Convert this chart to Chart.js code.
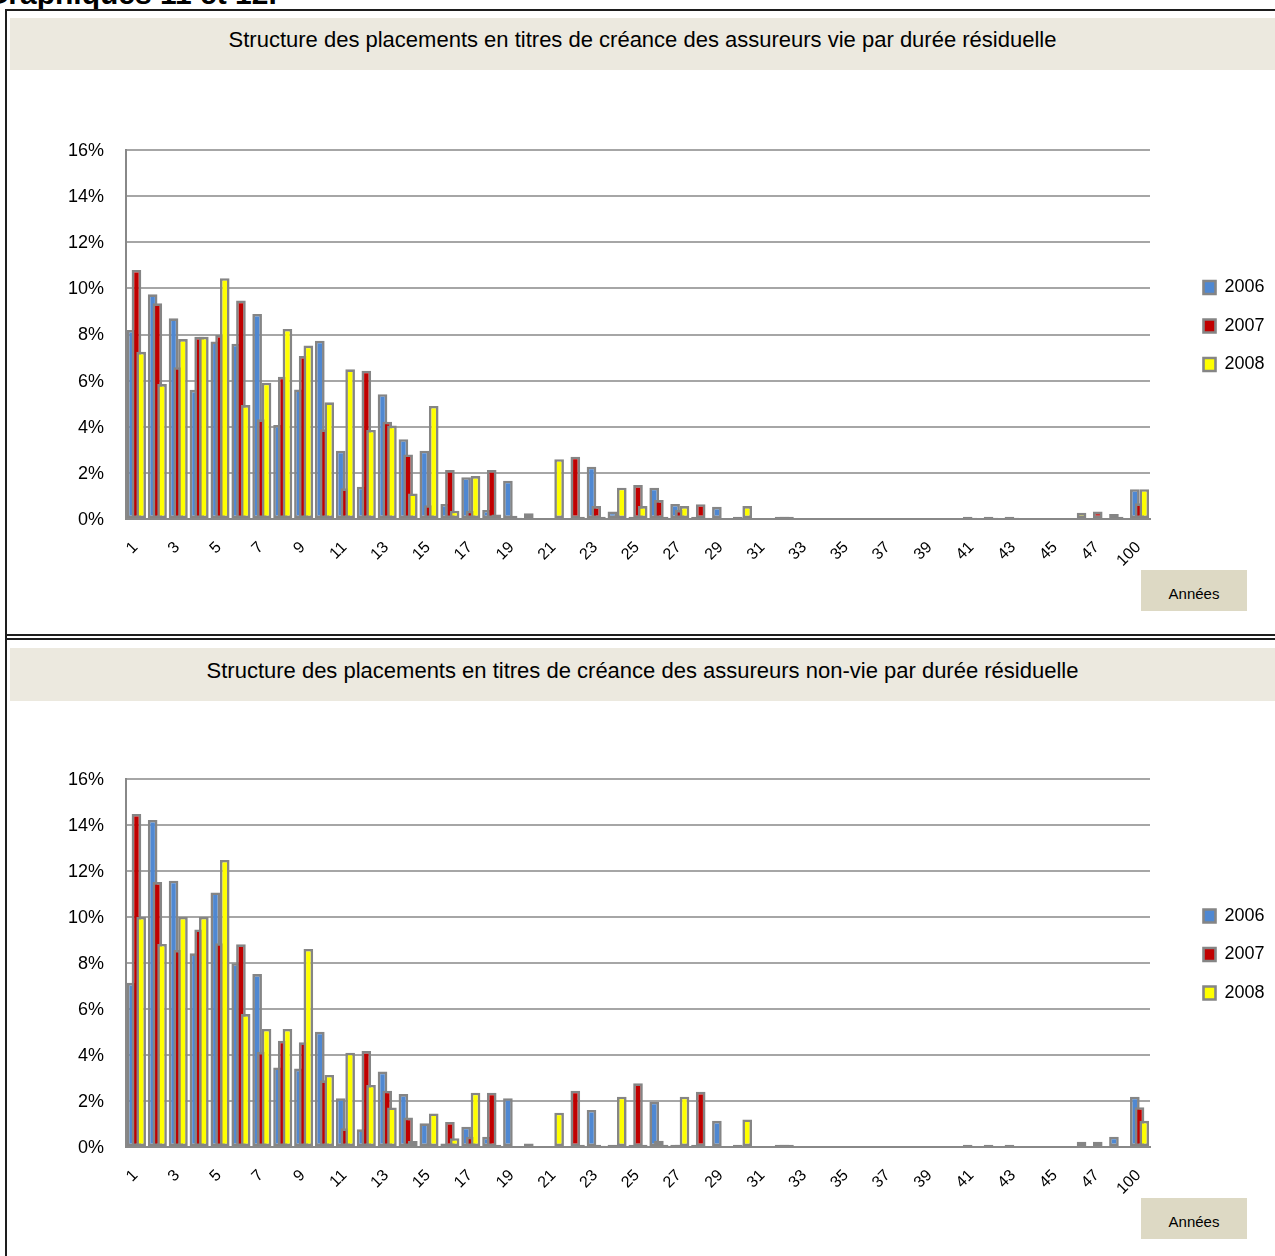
<!DOCTYPE html>
<html lang="fr">
<head>
<meta charset="utf-8">
<title>Graphiques 11 et 12</title>
<script src="https://cdn.jsdelivr.net/npm/chart.js@4/dist/chart.umd.min.js"></script>
<style>
  html, body { margin: 0; padding: 0; background: #fff; }
  body { position: relative; width: 1275px; height: 1256px; overflow: hidden;
         font-family: "Liberation Sans", Arial, sans-serif; color: #000; }
  .abs { position: absolute; }
  .heading { left: -15px; top: -21px; font-size: 30px; line-height: 30px; font-weight: bold; white-space: nowrap; }
  .rule { background: #1e1e1e; }
  .band { left: 10px; width: 1265px; background: #ECE9DF; font-size: 22px; line-height: 22px;
          text-align: center; white-space: nowrap; box-sizing: border-box; }
  .unit { left: 1141px; width: 106px; height: 41px; background: #DDD9C4; font-size: 15px; line-height: 15px;
          text-align: center; box-sizing: border-box; padding-top: 16px; }
  canvas { position: absolute; left: 10px; }
</style>
</head>
<body>
<div class="abs heading" id="heading"></div>
<div class="abs rule" style="left:5px; top:9px; width:1270px; height:2px"></div>
<div class="abs rule" style="left:5px; top:9px; width:2px; height:1247px"></div>
<div class="abs rule" style="left:5px; top:634px; width:1270px; height:2px"></div>
<div class="abs rule" style="left:5px; top:638px; width:1270px; height:2px"></div>

<div class="abs band" id="titleVie" style="top:18px; height:52px; padding-top:11px"></div>
<canvas id="chartVie" width="1261" height="520" style="top:80px"></canvas>
<div class="abs unit" id="unitVie" style="top:570px"></div>

<div class="abs band" id="titleNonVie" style="top:648px; height:53px; padding-top:12px"></div>
<canvas id="chartNonVie" width="1261" height="520" style="top:709px"></canvas>
<div class="abs unit" id="unitNonVie" style="top:1198px"></div>

<script>
// ---- texts ----
const headingText = 'Graphiques 11 et 12.';
const titleVie = 'Structure des placements en titres de créance des assureurs vie par durée résiduelle';
const titleNonVie = 'Structure des placements en titres de créance des assureurs non-vie par durée résiduelle';
const axisName = 'Années';

// ---- categories: residual maturity in years ----
const maturities = ['1','2','3','4','5','6','7','8','9','10',
  '11','12','13','14','15','16','17','18','19','20',
  '21','22','23','24','25','26','27','28','29','30',
  '31','32','33','34','35','36','37','38','39','40',
  '41','42','43','44','45','46','47','48','100'];

const years = ['2006', '2007', '2008'];

// ---- life insurers, share of debt securities (%) ----
const vie2006 = [8.2, 9.74, 8.7, 5.6, 7.7, 7.6, 8.89, 4.08, 5.62, 7.73,
  2.96, 1.4, 5.41, 3.46, 2.96, 0.65, 1.81, 0.39, 1.66, 0.25,
  0, 0, 2.27, 0.32, 0.1, 1.36, 0.65, 0.1, 0.53, 0.1,
  0, 0.1, 0, 0, 0, 0, 0, 0, 0, 0,
  0.1, 0.1, 0.1, 0, 0, 0, 0, 0.22, 1.29];
const vie2007 = [10.8, 9.35, 6.58, 7.9, 7.98, 9.47, 4.32, 6.17, 7.07, 3.89,
  1.33, 6.43, 4.22, 2.8, 0.6, 2.12, 0.36, 2.12, 0.14, 0,
  0, 2.7, 0.56, 0.05, 1.47, 0.82, 0.4, 0.64, 0, 0.05,
  0, 0.1, 0, 0, 0, 0, 0, 0, 0, 0,
  0.05, 0.05, 0.05, 0, 0, 0, 0.32, 0.1, 0.68];
const vie2008 = [7.25, 5.85, 7.8, 7.9, 10.44, 4.94, 5.91, 8.24, 7.52, 5.06,
  6.49, 3.86, 4.05, 1.11, 4.9, 0.36, 1.86, 0.2, 0.05, 0,
  2.59, 0.1, 0.1, 1.36, 0.56, 0.1, 0.56, 0.05, 0, 0.56,
  0, 0.1, 0, 0, 0, 0, 0, 0, 0, 0,
  0, 0, 0, 0, 0, 0.27, 0, 0, 1.29];

// ---- non-life insurers, share of debt securities (%) ----
const nonVie2006 = [7.14, 14.22, 11.58, 8.42, 11.07, 7.99, 7.52, 3.46, 3.41, 5.01,
  2.12, 0.77, 3.28, 2.3, 1.03, 0.15, 0.88, 0.45, 2.12, 0.15,
  0, 0, 1.61, 0.1, 0.1, 1.97, 0.1, 0.1, 1.14, 0.1,
  0, 0.1, 0, 0, 0, 0, 0, 0, 0, 0,
  0.1, 0.1, 0.1, 0, 0, 0, 0, 0.45, 2.19];
const nonVie2007 = [14.48, 11.52, 8.57, 9.46, 8.86, 8.81, 4.14, 4.62, 4.55, 2.9,
  0.81, 4.17, 2.45, 1.28, 0.1, 1.09, 0.45, 2.36, 0, 0,
  0, 2.45, 0.1, 0.05, 2.77, 0.27, 0.1, 2.4, 0, 0.05,
  0, 0.1, 0, 0, 0, 0, 0, 0, 0, 0,
  0, 0, 0, 0, 0, 0, 0.23, 0, 1.73];
const nonVie2008 = [10.0, 8.83, 10.0, 10.0, 12.48, 5.78, 5.13, 5.13, 8.61, 3.13,
  4.1, 2.7, 1.72, 0.26, 1.46, 0.38, 2.36, 0.1, 0, 0,
  1.49, 0.1, 0.05, 2.19, 0.1, 0.1, 2.19, 0, 0, 1.2,
  0, 0.1, 0, 0, 0, 0, 0, 0, 0, 0,
  0, 0, 0, 0, 0, 0.23, 0, 0, 1.14];

// ---- value axis ----
const yMin = 0, yMax = 16, yStep = 2;

document.getElementById('heading').textContent = headingText;
document.getElementById('titleVie').textContent = titleVie;
document.getElementById('titleNonVie').textContent = titleNonVie;
document.getElementById('unitVie').textContent = axisName;
document.getElementById('unitNonVie').textContent = axisName;

Chart.defaults.font.family = '"Liberation Sans", Arial, sans-serif';
Chart.defaults.color = '#000';

const fills = ['#4f88d2', '#c00000', '#ffff00'];
const outline = '#858585';

// Paint the years in sequence so each later year overlaps the earlier ones.
const paintInYearOrder = {
  id: 'paintInYearOrder',
  beforeDatasetsDraw(chart) {
    for (let i = 0; i < chart.data.datasets.length; i++) {
      if (chart.isDatasetVisible(i)) chart._drawDataset(chart.getDatasetMeta(i));
    }
    return false;
  }
};

// Raise the legend a little above the middle of the plot.
const legendLift = {
  id: 'legendLift',
  afterLayout(chart) {
    const lg = chart.legend;
    if (lg) { lg.top -= 8.5; lg.bottom -= 8.5; }
  }
};

function makeChart(canvasId, series, axisHeight) {
  return new Chart(document.getElementById(canvasId), {
    type: 'bar',
    data: {
      labels: maturities,
      datasets: series.map((values, i) => ({
        label: years[i],
        data: values,
        backgroundColor: fills[i],
        borderColor: outline,
        borderWidth: 2.6,
        borderSkipped: false,
        categoryPercentage: 0.675,
        barPercentage: 2.05
      }))
    },
    options: {
      responsive: false,
      animation: false,
      events: [],
      layout: { padding: { top: 70, left: 0, right: 0, bottom: 0 } },
      scales: {
        x: {
          grid: { display: false, drawTicks: false },
          border: { display: true, color: '#888888', width: 2 },
          ticks: {
            autoSkip: false, minRotation: 45, maxRotation: 45,
            padding: 19, labelOffset: -1,
            font: { size: 16 },
            callback(value, index) { return index % 2 === 0 ? this.getLabelForValue(value) : ''; }
          },
          afterFit(scale) { scale.height = axisHeight; }
        },
        y: {
          min: yMin, max: yMax,
          grid: { color: '#a6a6a6', lineWidth: 2, drawTicks: false },
          border: { color: '#888888', width: 2 },
          ticks: { stepSize: yStep, padding: 22, labelOffset: 1, font: { size: 18 }, callback: v => v + '%' },
          afterFit(scale) { scale.width = 116; }
        },
        gap: {
          type: 'linear', position: 'right', display: true,
          grid: { display: false, drawTicks: false },
          border: { display: false },
          ticks: { display: false },
          afterFit(scale) { scale.width = 33; }
        }
      },
      plugins: {
        legend: {
          position: 'right', fullSize: false, maxWidth: 88,
          labels: { boxWidth: 12, boxHeight: 13, padding: 20.5, font: { size: 18 } }
        },
        tooltip: { enabled: false }
      }
    },
    plugins: [paintInYearOrder, legendLift]
  });
}

makeChart('chartVie', [vie2006, vie2007, vie2008], 81);
makeChart('chartNonVie', [nonVie2006, nonVie2007, nonVie2008], 82);
</script>
</body>
</html>
